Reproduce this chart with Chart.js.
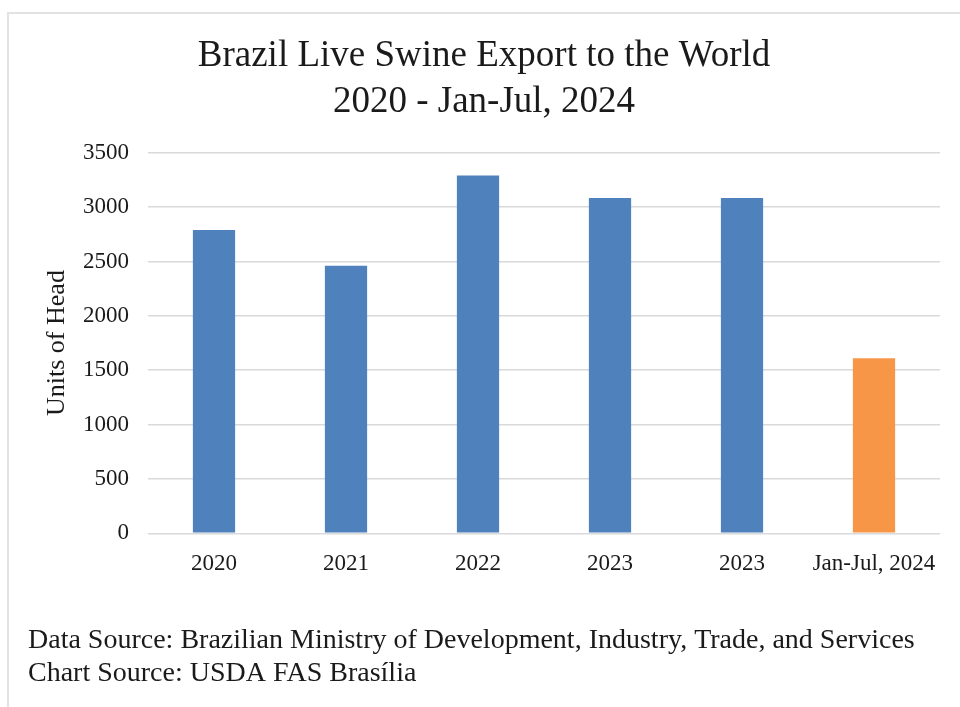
<!DOCTYPE html>
<html>
<head>
<meta charset="utf-8">
<title>Brazil Live Swine Export to the World</title>
<script src="https://cdn.jsdelivr.net/npm/chart.js@4/dist/chart.umd.min.js"></script>
<style>
  html, body { margin: 0; padding: 0; background: #ffffff; }
  #wrap { position: relative; width: 960px; height: 707px; overflow: hidden; }
  #frame {
    position: absolute; left: 7px; top: 12px; width: 1000px; height: 760px;
    border-top: 2px solid #e2e2e2; border-left: 2px solid #e2e2e2;
    box-sizing: border-box; pointer-events: none;
  }
  canvas { position: absolute; left: 0; top: 0; }
</style>
</head>
<body>
<div id="wrap">
  <div id="frame"></div>
  <canvas id="chart" width="960" height="707"></canvas>
</div>
<script>
// Live swine exports from Brazil, units of head
const categories = ['2020', '2021', '2022', '2023', '2023', 'Jan-Jul, 2024'];
const headCounts = [2790, 2460, 3290, 3085, 3085, 1610];
const barColors = ['#4f81bd', '#4f81bd', '#4f81bd', '#4f81bd', '#4f81bd', '#f79646'];
const yTicks = [0, 500, 1000, 1500, 2000, 2500, 3000, 3500];

const titleLines = ['Brazil Live Swine Export to the World', '2020 - Jan-Jul, 2024'];
const sourceLines = [
  'Data Source: Brazilian Ministry of Development, Industry, Trade, and Services',
  'Chart Source: USDA FAS Bras\u00edlia'
];

const SERIF = '"Liberation Serif", "Times New Roman", Times, serif';
const TEXT = '#1a1a1a';

new Chart(document.getElementById('chart'), {
  type: 'bar',
  data: {
    labels: categories,
    datasets: [{
      data: headCounts,
      backgroundColor: barColors,
      borderColor: barColors,
      borderWidth: 0,
      barPercentage: 0.32,
      categoryPercentage: 1.0
    }]
  },
  options: {
    responsive: false,
    animation: false,
    devicePixelRatio: 1,
    layout: { padding: { left: 28, right: 20, top: 0, bottom: 0 } },
    plugins: {
      legend: { display: false },
      tooltip: { enabled: false },
      title: {
        display: true,
        text: titleLines,
        color: TEXT,
        font: { family: SERIF, size: 37, weight: 'normal', lineHeight: 1.24 },
        padding: { top: 33, bottom: 28 }
      },
      subtitle: {
        display: true,
        position: 'bottom',
        align: 'start',
        text: sourceLines,
        color: TEXT,
        font: { family: SERIF, size: 28, weight: 'normal', lineHeight: 1.18 },
        padding: { top: 37, bottom: 17 }
      }
    },
    scales: {
      x: {
        grid: { display: false },
        border: { display: false },
        ticks: {
          color: TEXT,
          font: { family: SERIF, size: 23 },
          padding: 9,
          maxRotation: 0,
          autoSkip: false
        }
      },
      y: {
        min: 0,
        max: 3500,
        afterBuildTicks(scale) {
          scale.ticks = yTicks.map(v => ({ value: v }));
        },
        afterFit(scale) {
          scale.width = 120;
        },
        grid: { color: '#d9d9d9', lineWidth: 1.5, drawTicks: false },
        border: { display: false },
        ticks: {
          color: TEXT,
          font: { family: SERIF, size: 23 },
          padding: 19,
          callback: v => String(v)
        },
        title: {
          display: true,
          text: 'Units of Head',
          color: TEXT,
          font: { family: SERIF, size: 26 },
          padding: { top: 14, bottom: 9 }
        }
      }
    }
  }
});
</script>
</body>
</html>
